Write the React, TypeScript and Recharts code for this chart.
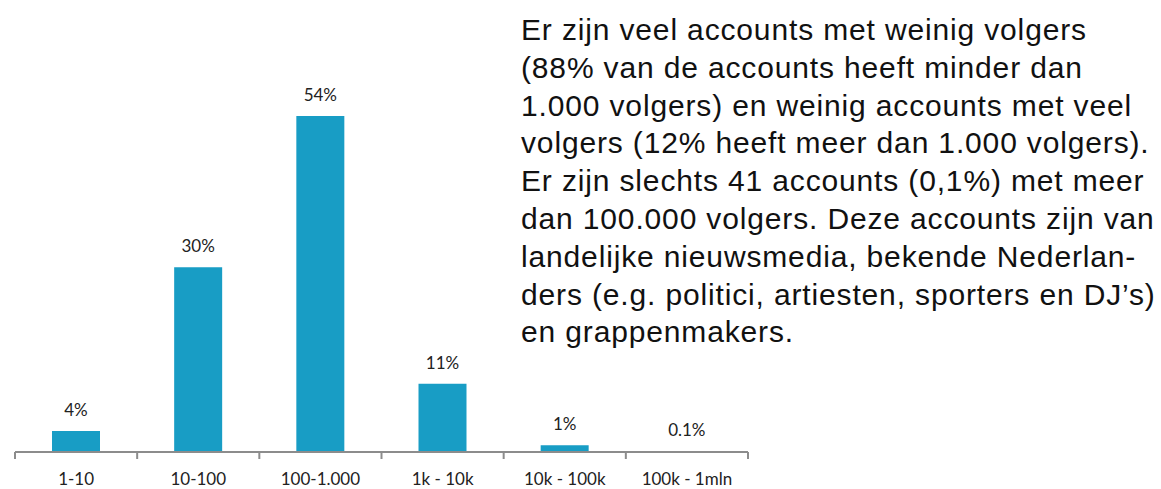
import React from 'react'
import { BarChart, Bar, XAxis, YAxis, LabelList } from 'recharts'

// follower-count buckets and share of accounts (%)
const categories = ['1-10', '10-100', '100-1.000', '1k - 10k', '10k - 100k', '100k - 1mln']
const shares = [3.4, 29.8, 54.2, 11, 1.1, 0.1]
const shareLabels = ['4%', '30%', '54%', '11%', '1%', '0.1%']

const textLines = [
  'Er zijn veel accounts met weinig volgers',
  '(88% van de accounts heeft minder dan',
  '1.000 volgers) en weinig accounts met veel',
  'volgers (12% heeft meer dan 1.000 volgers).',
  'Er zijn slechts 41 accounts (0,1%) met meer',
  'dan 100.000 volgers. Deze accounts zijn van',
  'landelijke nieuwsmedia, bekende Nederlan-',
  'ders (e.g. politici, artiesten, sporters en DJ’s)',
  'en grappenmakers.',
]

const data = categories.map((c, i) => ({ name: c, value: shares[i], label: shareLabels[i] }))

const BAR_COLOR = '#189dc5'
const AXIS_COLOR = '#8c8c8c'
const LABEL_FONT = 'Lato, sans-serif'
const TICK_SIZE = 7
const TICK_MARGIN = 13

// category label plus tick marks on the category boundaries (Excel style)
function EdgeTick(props: any) {
  const { x, y, payload, index, width, visibleTicksCount } = props
  const band = width && visibleTicksCount ? width / visibleTicksCount : 733 / 6
  const axisY = y - TICK_SIZE - TICK_MARGIN
  const last = index === (visibleTicksCount ?? 6) - 1
  return (
    <g>
      <line x1={x - band / 2} x2={x - band / 2} y1={axisY} y2={axisY + TICK_SIZE} stroke={AXIS_COLOR} strokeWidth={2} />
      {last && (
        <line x1={x + band / 2} x2={x + band / 2} y1={axisY} y2={axisY + TICK_SIZE} stroke={AXIS_COLOR} strokeWidth={2} />
      )}
      <text x={x} y={y} dy="0.75em" textAnchor="middle" fill="#222" fontSize={17} fontFamily={LABEL_FONT}>
        {payload.value}
      </text>
    </g>
  )
}

export default function App() {
  return (
    <div style={{ position: 'absolute', left: 0, top: 0, width: 1161, height: 489, background: '#fff', overflow: 'hidden' }}>
      <BarChart
        width={760}
        height={489}
        data={data}
        margin={{ top: 80, right: 12, left: 15, bottom: 0 }}
        barSize={48}
        style={{ position: 'absolute', left: 0, top: 0 }}
      >
        <YAxis hide domain={[0, 60]} />
        <XAxis
          dataKey="name"
          height={37}
          axisLine={{ stroke: AXIS_COLOR, strokeWidth: 2 }}
          tickLine={false}
          tickSize={TICK_SIZE}
          tickMargin={TICK_MARGIN}
          interval={0}
          tick={<EdgeTick />}
        />
        <Bar dataKey="value" fill={BAR_COLOR} isAnimationActive={false}>
          <LabelList
            dataKey="label"
            position="top"
            offset={15}
            style={{ fill: '#222', fontSize: 17, fontFamily: LABEL_FONT }}
          />
        </Bar>
      </BarChart>
      <div
        style={{
          position: 'absolute',
          left: 521,
          top: 11,
          fontFamily: '"Liberation Sans", Arial, sans-serif',
          fontSize: 30,
          letterSpacing: '0.85px',
          lineHeight: '37.8px',
          color: '#111',
          whiteSpace: 'nowrap',
        }}
      >
        {textLines.map((l) => (
          <div key={l}>{l}</div>
        ))}
      </div>
    </div>
  )
}
